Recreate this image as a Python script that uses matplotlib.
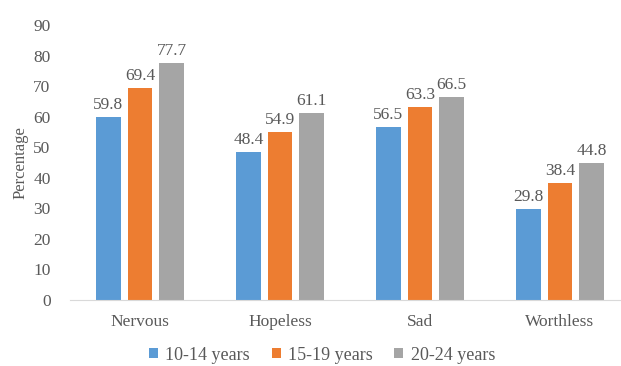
import numpy as np
import matplotlib
matplotlib.use('Agg')
import matplotlib.pyplot as plt

plt.rcParams['font.family'] = ['Liberation Serif', 'DejaVu Serif']

categories = ['Nervous', 'Hopeless', 'Sad', 'Worthless']
series = ['10-14 years', '15-19 years', '20-24 years']
age_10_14 = [59.8, 48.4, 56.5, 29.8]
age_15_19 = [69.4, 54.9, 63.3, 38.4]
age_20_24 = [77.7, 61.1, 66.5, 44.8]
colors = ['#5B9BD5', '#ED7D31', '#A5A5A5']
txt = '#595959'

fig = plt.figure(figsize=(6.21, 3.66), dpi=100)
ax = fig.add_axes([70/621, 66/366, 560/621, 275/366])

x = np.arange(len(categories))
w = 0.178
step = 0.225
for i, (vals, c, lab) in enumerate(zip([age_10_14, age_15_19, age_20_24], colors, series)):
    pos = x + (i - 1) * step
    bars = ax.bar(pos, vals, w, color=c, label=lab)
    for b, v in zip(bars, vals):
        ax.text(b.get_x() + b.get_width()/2, v + 1.3, '%.1f' % v,
                ha='center', va='bottom', fontsize=12.5, color=txt)

ax.set_xlim(-0.5, 3.5)
ax.set_ylim(0, 90)
ax.set_yticks(range(0, 91, 10))
ax.set_xticks(x)
ax.set_xticklabels(categories)
ax.tick_params(axis='both', length=0, labelsize=12.5, colors=txt)
ax.tick_params(axis='x', pad=10)
ax.tick_params(axis='y', pad=14)
for s in ['top', 'right', 'left']:
    ax.spines[s].set_visible(False)
ax.spines['bottom'].set_color('#D9D9D9')
ax.set_ylabel('Percentage', fontsize=12, color=txt, labelpad=3)

fig.legend(loc='center', bbox_to_anchor=(322/621, 1 - 355/366), ncol=3, frameon=False,
           fontsize=13, handlelength=0.5, handleheight=0.5, handletextpad=0.4,
           columnspacing=1.2, labelcolor=txt)

fig.savefig('out.png', dpi=100)
